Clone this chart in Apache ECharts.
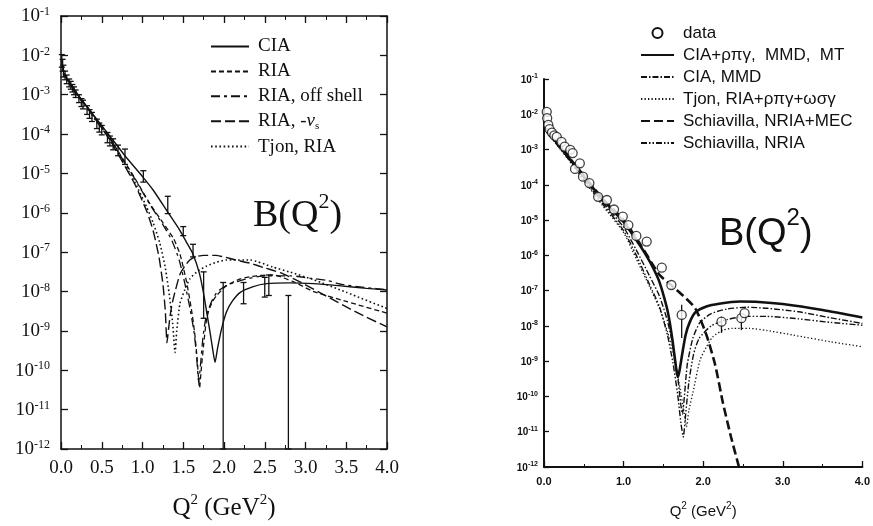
<!DOCTYPE html>
<html>
<head>
<meta charset="utf-8">
<script src="https://cdn.jsdelivr.net/npm/echarts@6/dist/echarts.min.js"></script>
<style>
  html, body { margin: 0; padding: 0; background: #fff; }
  #chart { width: 873px; height: 526px; }
</style>
</head>
<body>
<div id="chart"></div>
<script>
// Deuteron magnetic form factor B(Q^2): two panels of theory curves and data.
// Values are stored as log10 B at the listed Q^2 (GeV^2); the y axes run in
// decades, labelled 10^n.

// ---- left panel: CIA / RIA variants ----
const ciaQ2 = [0.03,0.05,0.2,0.4,0.6,0.785,1.0,1.13,1.3,1.46,1.54,1.62,1.7,1.75,1.79,1.83,1.86,1.89,1.92,1.97,2.03,2.1,2.2,2.35,2.52,2.8,3.1,3.4,3.75,4.0];
const ciaLogB = [-2.45,-2.52,-2.98,-3.52,-4.05,-4.55,-5.08,-5.42,-5.95,-6.45,-6.75,-7.05,-7.55,-8.05,-8.55,-9.05,-9.45,-9.8,-9.45,-8.95,-8.52,-8.25,-8.02,-7.88,-7.8,-7.78,-7.8,-7.85,-7.92,-7.96];

const riaQ2 = [0.03,0.05,0.2,0.4,0.6,0.72,0.9,1.1,1.25,1.38,1.46,1.54,1.6,1.64,1.67,1.70,1.72,1.75,1.78,1.81,1.86,1.91,2.03,2.2,2.4,2.6,2.85,3.1,3.5,4.0];
const riaLogB = [-2.45,-2.52,-2.98,-3.53,-4.1,-4.5,-5.1,-5.8,-6.25,-6.65,-7.05,-7.75,-8.45,-9.05,-9.7,-10.45,-10.0,-9.35,-8.8,-8.5,-8.25,-8.1,-7.85,-7.68,-7.6,-7.58,-7.75,-8.0,-8.25,-8.55];

const offShellQ2 = [0.03,0.05,0.2,0.4,0.6,0.72,0.9,1.1,1.25,1.36,1.45,1.52,1.58,1.63,1.66,1.69,1.71,1.74,1.77,1.81,1.86,1.92,2.03,2.2,2.5,2.82,3.05,3.27,3.45,3.75,4.0];
const offShellLogB = [-2.45,-2.52,-2.98,-3.53,-4.1,-4.52,-5.12,-5.82,-6.3,-6.7,-7.2,-7.8,-8.4,-9.0,-9.55,-10.3,-9.9,-9.2,-8.75,-8.45,-8.2,-8.0,-7.85,-7.72,-7.6,-7.6,-7.66,-7.72,-7.82,-7.9,-7.95];

const minusVsQ2 = [0.03,0.05,0.2,0.4,0.6,0.72,0.9,1.05,1.13,1.2,1.25,1.28,1.30,1.32,1.34,1.37,1.40,1.46,1.52,1.58,1.65,1.75,1.9,2.0,2.15,2.32,2.5,2.69,2.9,3.26,3.6,4.0];
const minusVsLogB = [-2.45,-2.52,-2.99,-3.56,-4.15,-4.58,-5.25,-5.95,-6.45,-7.1,-7.8,-8.5,-9.3,-8.95,-8.6,-8.25,-8.0,-7.56,-7.35,-7.2,-7.12,-7.08,-7.08,-7.12,-7.2,-7.28,-7.4,-7.52,-7.72,-8.12,-8.5,-8.9];

const tjonQ2 = [0.03,0.05,0.2,0.4,0.6,0.72,0.9,1.05,1.13,1.21,1.28,1.33,1.37,1.40,1.42,1.46,1.52,1.58,1.68,1.79,1.9,2.03,2.32,2.6,2.8,3.1,3.5,4.0];
const tjonLogB = [-2.45,-2.52,-2.99,-3.55,-4.13,-4.55,-5.2,-5.85,-6.25,-6.75,-7.4,-8.1,-8.8,-9.55,-9.0,-8.3,-7.95,-7.68,-7.48,-7.35,-7.26,-7.2,-7.2,-7.38,-7.5,-7.7,-8.02,-8.43];

// measured points (error bars only): log10 of lower / upper ends
const leftDataQ2 = [0.01,0.02,0.03,0.05,0.07,0.10,0.12,0.14,0.16,0.18,0.22,0.25,0.27,0.32,0.35,0.38,0.44,0.47,0.50,0.57,0.60,0.64,0.70,0.785,1.01,1.31,1.50,1.62,1.75,1.99,2.24,2.50,2.55,2.79];
const leftDataLo = [-2.3,-2.4,-2.55,-2.62,-2.72,-2.8,-2.86,-2.93,-3.0,-3.07,-3.2,-3.3,-3.36,-3.5,-3.6,-3.68,-3.86,-3.95,-4.02,-4.22,-4.3,-4.4,-4.55,-4.77,-5.22,-6.02,-6.58,-7.12,-8.68,-12,-8.31,-8.14,-8.1,-12];
const leftDataHi = [-1.98,-2.1,-2.25,-2.4,-2.5,-2.6,-2.66,-2.74,-2.8,-2.88,-3.0,-3.1,-3.14,-3.28,-3.38,-3.45,-3.62,-3.72,-3.78,-3.96,-4.05,-4.12,-4.28,-4.38,-4.93,-5.58,-6.35,-6.8,-7.5,-7.77,-7.77,-7.64,-7.58,-8.1];

// ---- right panel: CIA with MEC, Tjon, Schiavilla ----
const mtQ2 = [0.03,0.05,0.3,0.74,1.0,1.2,1.29,1.37,1.45,1.54,1.58,1.62,1.66,1.68,1.70,1.74,1.78,1.83,1.9,2.04,2.2,2.46,2.7,3.0,3.5,4.0];
const mtLogB = [-2.42,-2.48,-3.2,-4.43,-5.05,-5.7,-6.02,-6.35,-6.75,-7.45,-7.9,-8.5,-9.2,-9.45,-9.3,-8.75,-8.25,-7.9,-7.62,-7.45,-7.37,-7.31,-7.32,-7.38,-7.55,-7.76];

const mmdQ2 = [0.03,0.05,0.3,0.74,1.0,1.16,1.33,1.45,1.55,1.62,1.68,1.72,1.74,1.76,1.8,1.87,1.96,2.1,2.3,2.55,2.8,3.2,3.6,4.0];
const mmdLogB = [-2.45,-2.5,-3.22,-4.5,-5.2,-5.85,-6.6,-7.15,-7.85,-8.55,-9.45,-10.25,-10.5,-10.1,-9.1,-8.35,-7.9,-7.65,-7.52,-7.47,-7.5,-7.6,-7.77,-7.93];

const tjonFullQ2 = [0.03,0.05,0.3,0.74,1.0,1.16,1.33,1.45,1.55,1.62,1.7,1.76,1.79,1.82,1.87,1.96,2.04,2.12,2.25,2.37,2.58,2.8,3.13,3.6,4.0];
const tjonFullLogB = [-2.5,-2.55,-3.27,-4.6,-5.35,-6.1,-6.9,-7.5,-8.15,-8.75,-9.65,-10.45,-10.86,-10.4,-9.9,-8.97,-8.6,-8.31,-8.12,-8.07,-8.07,-8.13,-8.26,-8.45,-8.59];

const mecQ2 = [0.03,0.05,0.3,0.74,1.0,1.2,1.45,1.6,1.75,1.9,2.04,2.15,2.25,2.35,2.45];
const mecLogB = [-2.42,-2.48,-3.18,-4.4,-5.0,-5.65,-6.55,-6.85,-7.15,-7.5,-8.25,-9.1,-10.2,-11.15,-12];

const nriaQ2 = [0.03,0.05,0.3,0.74,1.0,1.16,1.33,1.45,1.55,1.62,1.68,1.72,1.75,1.78,1.82,1.88,1.95,2.1,2.3,2.55,2.8,3.2,3.6,4.0];
const nriaLogB = [-2.5,-2.55,-3.25,-4.55,-5.3,-6.0,-6.85,-7.45,-8.25,-9.05,-9.95,-10.75,-11.15,-10.5,-9.6,-8.8,-8.35,-8.0,-7.82,-7.73,-7.73,-7.8,-7.9,-7.98];

const rightDataQ2 = [0.034,0.04,0.054,0.07,0.1,0.13,0.16,0.22,0.26,0.33,0.36,0.39,0.45,0.49,0.57,0.68,0.79,0.88,0.99,1.06,1.16,1.29,1.48,1.60,1.73,2.23,2.48,2.52];
const rightDataLogB = [-1.93,-2.11,-2.3,-2.42,-2.52,-2.6,-2.64,-2.78,-2.92,-3.01,-3.1,-3.55,-3.39,-3.77,-3.95,-4.34,-4.43,-4.7,-4.9,-5.14,-5.45,-5.61,-6.35,-6.84,-7.69,-7.88,-7.78,-7.64];
const rightErrQ2 = [1.73, 2.23, 2.48];
const rightErrLo = [-8.34, -8.2, -8.12];
const rightErrHi = [-7.4, -7.74, -7.74];

// ---- helpers ----
const curve = (xs, logs) => xs.map((x, i) => [x, logs[i]]);
const bars = (xs, lo, hi) => xs.map((x, i) => [x, lo[i], hi[i]]);

const INK = '#111';
const SERIF = '"Liberation Serif", "DejaVu Serif", serif';
const SANS = '"Liberation Sans", Arial, sans-serif';

const decadeLabel = v => '{b|10}{s|' + Math.round(v) + '}';

function errorBarRenderer(capHalf, width) {
  return function (params, api) {
    const x = api.value(0);
    const top = api.coord([x, api.value(2)]);
    const bot = api.coord([x, api.value(1)]);
    const style = { stroke: INK, lineWidth: width };
    const children = [
      { type: 'line', shape: { x1: top[0], y1: top[1], x2: bot[0], y2: bot[1] }, style }
    ];
    if (capHalf > 0) {
      children.push({ type: 'line', shape: { x1: top[0] - capHalf, y1: top[1], x2: top[0] + capHalf, y2: top[1] }, style });
      children.push({ type: 'line', shape: { x1: bot[0] - capHalf, y1: bot[1], x2: bot[0] + capHalf, y2: bot[1] }, style });
    }
    return { type: 'group', children };
  };
}

const leftYLabelRich = {
  b: { fontFamily: SERIF, fontSize: 19, color: INK, lineHeight: 20, verticalAlign: 'bottom' },
  s: { fontFamily: SERIF, fontSize: 12, color: INK, lineHeight: 12, verticalAlign: 'top' }
};
const rightYLabelRich = {
  b: { fontFamily: SANS, fontWeight: 'bold', fontSize: 10, color: INK, lineHeight: 12, verticalAlign: 'bottom' },
  s: { fontFamily: SANS, fontWeight: 'bold', fontSize: 7, color: INK, lineHeight: 7, verticalAlign: 'top' }
};

function decadeAxis(gridIndex, position, showLabels, rich, lineWidth, tickLen, margin) {
  return {
    gridIndex, type: 'value', min: -12, max: -1, interval: 1, position,
    axisLine: { onZero: false, lineStyle: { color: INK, width: lineWidth } },
    axisTick: { inside: true, length: tickLen, lineStyle: { color: INK, width: 1.3 } },
    splitLine: { show: false },
    axisLabel: showLabels ? { margin, formatter: decadeLabel, rich } : { show: false }
  };
}

const legendText = (font, size) => ({ fontFamily: font, fontSize: size, color: INK });

const chart = echarts.init(document.getElementById('chart'), null, { renderer: 'canvas' });

chart.setOption({
  animation: false,
  backgroundColor: '#fff',
  grid: [
    { left: 61, top: 16, width: 326, height: 440, containLabel: false },
    { left: 544, top: 79, width: 319, height: 388, containLabel: false }
  ],
  title: [
    {
      text: '{a|B(Q}{s|2}{a|)}',
      left: 248, top: 186,
      textStyle: {
        rich: {
          a: { fontFamily: SERIF, fontWeight: 'normal', fontSize: 38, color: INK, lineHeight: 44, verticalAlign: 'bottom' },
          s: { fontFamily: SERIF, fontWeight: 'normal', fontSize: 22, color: INK, lineHeight: 22, verticalAlign: 'top' }
        }
      }
    },
    {
      text: '{a|B(Q}{s|2}{a|)}',
      left: 714, top: 201,
      textStyle: {
        rich: {
          a: { fontFamily: SANS, fontWeight: 'normal', fontSize: 38, color: INK, lineHeight: 48, verticalAlign: 'bottom' },
          s: { fontFamily: SANS, fontWeight: 'normal', fontSize: 24, color: INK, lineHeight: 24, verticalAlign: 'top' }
        }
      }
    }
  ],
  legend: [
    {
      orient: 'vertical', left: 210, top: 37, padding: 0,
      itemWidth: 38, itemHeight: 14, itemGap: 5.9,
      itemStyle: { opacity: 0 },
      data: ['CIA', 'RIA', 'RIA, off shell', 'RIA, -vs', 'Tjon, RIA'],
      formatter: name => name === 'RIA, -vs' ? '{t|RIA, -}{i|v}{u|s}' : '{t|' + name + '}',
      textStyle: {
        padding: [0, 0, 0, 4],
        rich: {
          t: Object.assign(legendText(SERIF, 19), { lineHeight: 20 }),
          i: Object.assign(legendText(SERIF, 19), { fontStyle: 'italic', lineHeight: 20 }),
          u: Object.assign(legendText(SERIF, 11), { lineHeight: 11, verticalAlign: 'bottom' })
        }
      },
      selectedMode: false
    },
    {
      orient: 'vertical', left: 640, top: 24, padding: 0,
      itemWidth: 33, itemHeight: 10, itemGap: 4,
      itemStyle: { opacity: 0 },
      data: [
        { name: 'data', itemStyle: { opacity: 1 } },
        'CIA+ρπγ,  MMD,  MT', 'CIA, MMD', 'Tjon, RIA+ρπγ+ωσγ', 'Schiavilla, NRIA+MEC', 'Schiavilla, NRIA'
      ],
      textStyle: Object.assign(legendText(SANS, 17), { lineHeight: 18, padding: [0, 0, 0, 4] }),
      selectedMode: false
    }
  ],
  xAxis: [
    {
      gridIndex: 0, type: 'value', min: 0, max: 4, interval: 0.5, position: 'bottom',
      axisLine: { onZero: false, lineStyle: { color: INK, width: 1.5 } },
      axisTick: { inside: true, length: 7, lineStyle: { color: INK, width: 1.3 } },
      minorTick: { show: true, splitNumber: 2, length: 4, lineStyle: { color: INK, width: 1 } },
      splitLine: { show: false },
      axisLabel: { margin: 10, fontFamily: SERIF, fontSize: 19, color: INK, formatter: v => v.toFixed(1) },
      name: '{a|Q}{s|2}{a| (GeV}{s|2}{a|)}',
      nameLocation: 'middle', nameGap: 44,
      nameTextStyle: {
        rich: {
          a: { fontFamily: SERIF, fontSize: 25, color: INK, lineHeight: 28, verticalAlign: 'bottom' },
          s: { fontFamily: SERIF, fontSize: 15, color: INK, lineHeight: 15, verticalAlign: 'top' }
        }
      }
    },
    {
      gridIndex: 0, type: 'value', min: 0, max: 4, interval: 0.5, position: 'top',
      axisLine: { onZero: false, lineStyle: { color: INK, width: 1.5 } },
      axisTick: { inside: true, length: 7, lineStyle: { color: INK, width: 1.3 } },
      minorTick: { show: true, splitNumber: 2, length: 4, lineStyle: { color: INK, width: 1 } },
      splitLine: { show: false },
      axisLabel: { show: false }
    },
    {
      gridIndex: 1, type: 'value', min: 0, max: 4, interval: 1, position: 'bottom',
      axisLine: { onZero: false, lineStyle: { color: INK, width: 2 } },
      axisTick: { inside: true, length: 6, lineStyle: { color: INK, width: 1.3 } },
      minorTick: { show: true, splitNumber: 2, length: 3, lineStyle: { color: INK, width: 1 } },
      splitLine: { show: false },
      axisLabel: { margin: 9, fontFamily: SANS, fontWeight: 'bold', fontSize: 11, color: INK, formatter: v => v.toFixed(1) },
      name: '{a|Q}{s|2}{a| (GeV}{s|2}{a|)}',
      nameLocation: 'middle', nameGap: 34,
      nameTextStyle: {
        rich: {
          a: { fontFamily: SANS, fontSize: 15, color: INK, lineHeight: 18, verticalAlign: 'bottom' },
          s: { fontFamily: SANS, fontSize: 10, color: INK, lineHeight: 10, verticalAlign: 'top' }
        }
      }
    }
  ],
  yAxis: [
    decadeAxis(0, 'left', true, leftYLabelRich, 1.5, 7, 11),
    decadeAxis(0, 'right', false, null, 1.5, 7, 0),
    decadeAxis(1, 'left', true, rightYLabelRich, 2, 5, 6)
  ],
  series: [
    // left panel
    { name: 'CIA', type: 'line', xAxisIndex: 0, yAxisIndex: 0, data: curve(ciaQ2, ciaLogB),
      showSymbol: false, symbol: 'none', smooth: 0.2, color: INK, lineStyle: { color: INK, width: 1.4, type: 'solid' } },
    { name: 'RIA', type: 'line', xAxisIndex: 0, yAxisIndex: 0, data: curve(riaQ2, riaLogB),
      showSymbol: false, symbol: 'none', smooth: 0.2, color: INK, lineStyle: { color: INK, width: 1.3, type: [5, 3] } },
    { name: 'RIA, off shell', type: 'line', xAxisIndex: 0, yAxisIndex: 0, data: curve(offShellQ2, offShellLogB),
      showSymbol: false, symbol: 'none', smooth: 0.2, color: INK, lineStyle: { color: INK, width: 1.3, type: [9, 4, 3, 4] } },
    { name: 'RIA, -vs', type: 'line', xAxisIndex: 0, yAxisIndex: 0, data: curve(minusVsQ2, minusVsLogB),
      showSymbol: false, symbol: 'none', smooth: 0.2, color: INK, lineStyle: { color: INK, width: 1.4, type: [10, 4] } },
    { name: 'Tjon, RIA', type: 'line', xAxisIndex: 0, yAxisIndex: 0, data: curve(tjonQ2, tjonLogB),
      showSymbol: false, symbol: 'none', smooth: 0.2, color: INK, lineStyle: { color: INK, width: 1.6, type: [1.6, 2.6] } },
    { name: 'left data', type: 'custom', xAxisIndex: 0, yAxisIndex: 0, data: bars(leftDataQ2, leftDataLo, leftDataHi),
      renderItem: errorBarRenderer(3, 1.3), encode: { x: 0, y: [1, 2] }, silent: true },

    // right panel
    { name: 'CIA+ρπγ,  MMD,  MT', type: 'line', xAxisIndex: 2, yAxisIndex: 2, data: curve(mtQ2, mtLogB),
      showSymbol: false, symbol: 'none', smooth: 0.2, color: INK, lineStyle: { color: INK, width: 2.6, type: 'solid' } },
    { name: 'CIA, MMD', type: 'line', xAxisIndex: 2, yAxisIndex: 2, data: curve(mmdQ2, mmdLogB),
      showSymbol: false, symbol: 'none', smooth: 0.2, color: INK, lineStyle: { color: INK, width: 1.4, type: [6, 2, 1.5, 2] } },
    { name: 'Tjon, RIA+ρπγ+ωσγ', type: 'line', xAxisIndex: 2, yAxisIndex: 2, data: curve(tjonFullQ2, tjonFullLogB),
      showSymbol: false, symbol: 'none', smooth: 0.2, color: INK, lineStyle: { color: INK, width: 1.3, type: [1.3, 2.2] } },
    { name: 'Schiavilla, NRIA+MEC', type: 'line', xAxisIndex: 2, yAxisIndex: 2, data: curve(mecQ2, mecLogB),
      showSymbol: false, symbol: 'none', smooth: 0.2, color: INK, lineStyle: { color: INK, width: 2.6, type: [9, 4] } },
    { name: 'Schiavilla, NRIA', type: 'line', xAxisIndex: 2, yAxisIndex: 2, data: curve(nriaQ2, nriaLogB),
      showSymbol: false, symbol: 'none', smooth: 0.2, color: INK, lineStyle: { color: INK, width: 1.4, type: [6, 2, 1.5, 2, 1.5, 2] } },
    { name: 'right errors', type: 'custom', xAxisIndex: 2, yAxisIndex: 2, data: bars(rightErrQ2, rightErrLo, rightErrHi),
      renderItem: errorBarRenderer(0, 1.3), encode: { x: 0, y: [1, 2] }, silent: true },
    { name: 'data', type: 'scatter', xAxisIndex: 2, yAxisIndex: 2, data: curve(rightDataQ2, rightDataLogB),
      symbol: 'circle', symbolSize: 9, itemStyle: { color: '#fff', borderColor: INK, borderWidth: 1.3 }, z: 5 }
  ]
});
</script>
</body>
</html>
